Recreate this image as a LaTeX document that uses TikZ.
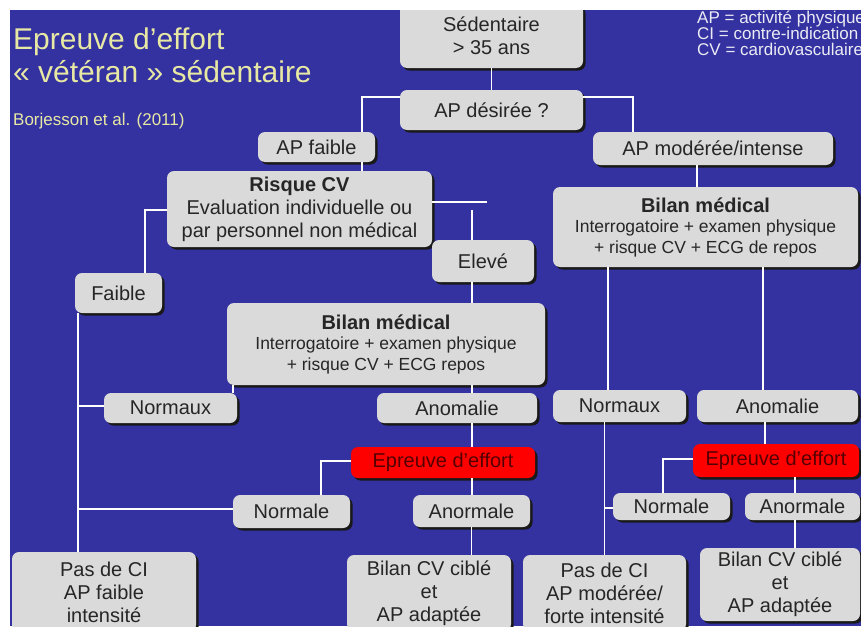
\documentclass[tikz,border=0pt]{standalone}
\usepackage{fontspec}
\setmainfont{Liberation Sans}
\usetikzlibrary{shadows}

\definecolor{slideblue}{RGB}{52,50,160}
\definecolor{boxgrey}{RGB}{218,218,218}
\definecolor{titleyellow}{RGB}{232,232,165}
\definecolor{boxred}{RGB}{255,0,0}
\definecolor{redtext}{RGB}{85,0,0}
\definecolor{legendwhite}{RGB}{235,235,245}

\begin{document}
\begin{tikzpicture}[x=1pt,y=-1pt,
    box/.style={fill=boxgrey, rounded corners=7pt, align=center, inner sep=0pt,
      text=black!85, font=\fontsize{20}{23}\selectfont,
      drop shadow={shadow xshift=2.5pt, shadow yshift=-2.5pt, fill=black!90, opacity=1}},
    bilan/.style={box, font=\fontsize{17.5}{20.5}\selectfont},
    redbox/.style={box, fill=boxred, text=redtext},
    sz/.style 2 args={minimum width=#1, minimum height=#2},
    link/.style={draw=white, line width=1.8pt},
    title/.style={text=titleyellow, inner sep=0pt, anchor=base west, font=\fontsize{30}{32}\selectfont},
    small/.style={inner sep=0pt, anchor=base west, font=\fontsize{17}{16}\selectfont}]
    \useasboundingbox (0,0) rectangle (861,626);
    \clip (0,0) rectangle (861,626);
    \fill[slideblue] (0,0) rectangle (861,626);

    % titre et legende
    \node[title] (title1) at (13,50) {Epreuve d’effort};
    \node[title] (title2) at (13,82) {« vétéran » sédentaire};
    \node[small, text=titleyellow] (source) at (13,125) {Borjesson et al. (2011)};
    \node[small, text=legendwhite] (leg1) at (697,24) {AP = activité physique};
    \node[small, text=legendwhite] (leg2) at (697,40) {CI = contre-indication};
    \node[small, text=legendwhite] (leg3) at (697,56) {CV = cardiovasculaire};

    % cases
    \node[box, sz={183}{64}] (sed) at (491.5,36) {Sédentaire\\> 35 ans};
    \node[box, sz={183}{40}] (desir) at (491.5,110) {AP désirée ?};
    \node[box, sz={117}{30}] (apf) at (316.5,147) {AP faible};
    \node[box, sz={240}{33}] (apm) at (713,148.5) {AP modérée/intense};
    \node[box, sz={265}{76}] (risque) at (299.5,209) {\textbf{Risque CV}\\Evaluation individuelle ou\\par personnel non médical};
    \node[box, sz={102}{42}] (eleve) at (483,261) {Elevé};
    \node[box, sz={87}{40}] (faible) at (118.5,293) {Faible};
    \node[bilan, sz={318}{82}] (bilanL) at (386,344) {{\fontsize{20}{20.5}\selectfont\bfseries Bilan médical}\\Interrogatoire + examen physique\\+ risque CV + ECG repos};
    \node[bilan, sz={305}{80}] (bilanR) at (705.5,227) {{\fontsize{20}{20.5}\selectfont\bfseries Bilan médical}\\Interrogatoire + examen physique\\+ risque CV + ECG de repos};
    \node[box, sz={133}{30}] (normL) at (170.5,408) {Normaux};
    \node[box, sz={160}{30}] (anomL) at (457,408) {Anomalie};
    \node[box, sz={133}{32}] (normR) at (619.5,406) {Normaux};
    \node[box, sz={161}{32}] (anomR) at (777.5,406) {Anomalie};
    \node[redbox, sz={184}{31}] (effL) at (443,462.5) {Epreuve d’effort};
    \node[redbox, sz={166}{33}] (effR) at (776,460.5) {Epreuve d’effort};
    \node[box, sz={117}{33}] (normaleL) at (291.5,511.5) {Normale};
    \node[box, sz={117}{32}] (anormL) at (471.5,511) {Anormale};
    \node[box, sz={117}{27}] (normaleR) at (671.5,506.5) {Normale};
    \node[box, sz={115}{27}] (anormR) at (802.5,506.5) {Anormale};
    \node[box, sz={184}{80}] (pasL) at (104,592) {Pas de CI\\AP faible\\intensité};
    \node[box, sz={164}{76}] (cibleL) at (429,593) {Bilan CV ciblé\\et\\AP adaptée};
    \node[box, sz={163}{76}] (pasR) at (604.5,593) {Pas de CI\\AP modérée/\\forte intensité};
    \node[box, sz={160}{73}] (cibleR) at (780,584.5) {Bilan CV ciblé\\et\\AP adaptée};

    % liaisons
    \coordinate (spine) at ([xshift=-40.5pt]faible.south);
    \draw[link] (sed) -- (desir);
    \draw[link] ([yshift=-7pt]desir.north west) -| ([xshift=45.5pt]apf.north);
    \draw[link] ([yshift=-7pt]desir.north east) -| ([xshift=-80pt]apm.north);
    \draw[link] ([xshift=45.5pt]apf.south) -- ([xshift=45.5pt]apf.south |- risque.north);
    \draw[link] ([xshift=-16pt]apm.south) -- ([xshift=-16pt]apm.south |- bilanR.north);
    \draw[link] ([yshift=-1pt]risque.west) -| ([xshift=26.5pt]faible.north);
    \draw[link] ([yshift=7pt]risque.east) -- ++(55,0) coordinate (riskend);
    \draw[link] ([xshift=-11pt,yshift=30pt]eleve.north) -- ([xshift=-11pt]eleve.north);
    \draw[link] ([xshift=-11pt]eleve.south) -- ([xshift=-11pt]eleve.south |- bilanL.north);
    \draw[link] (spine) -- (spine |- pasL.north);
    \draw[link] ([yshift=2pt]normL.west) -| (spine);
    \draw[link] ([yshift=2.5pt]normaleL.west) -| (spine);
    \draw[link] ([xshift=62.5pt]normL.north) -- ([xshift=62.5pt]normL.north |- bilanL.south);
    \draw[link] ([xshift=15pt]bilanL.south -| anomL.north) -- ([xshift=15pt]anomL.north);
    \draw[link] ([xshift=15pt]anomL.south) -- ([xshift=15pt]anomL.south |- effL.north);
    \draw[link] ([yshift=1.5pt]effL.west) -| ([xshift=29.5pt]normaleL.north);
    \draw[link] ([xshift=29pt]effL.south) -- ([xshift=29pt]effL.south |- anormL.north);
    \draw[link] (anormL.south) -- (anormL.south |- cibleL.north);
    \draw[link] ([xshift=-11.5pt]normR.north |- bilanR.south) -- ([xshift=-11.5pt]normR.north);
    \draw[link] ([xshift=-14.5pt]anomR.north |- bilanR.south) -- ([xshift=-14.5pt]anomR.north);
    \draw[link] (pasR.north |- normR.south) -- (pasR.north);
    \draw[link] ([yshift=-1.5pt]normaleR.west) -| (pasR.north);
    \draw[link] ([xshift=-12.5pt]anomR.south) -- ([xshift=-12.5pt]anomR.south |- effR.north);
    \draw[link] ([yshift=1.5pt]effR.west) -| ([xshift=-8.5pt]normaleR.north);
    \draw[link] ([xshift=19pt]effR.south) -- ([xshift=19pt]effR.south |- anormR.north);
    \draw[link] ([xshift=-7.5pt]anormR.south) -- ([xshift=-7.5pt]anormR.south |- cibleR.north);

    % bords blancs
    \fill[white] (0,0) rectangle (861,10);
    \fill[white] (0,0) rectangle (10,626);
\end{tikzpicture}
\end{document}
